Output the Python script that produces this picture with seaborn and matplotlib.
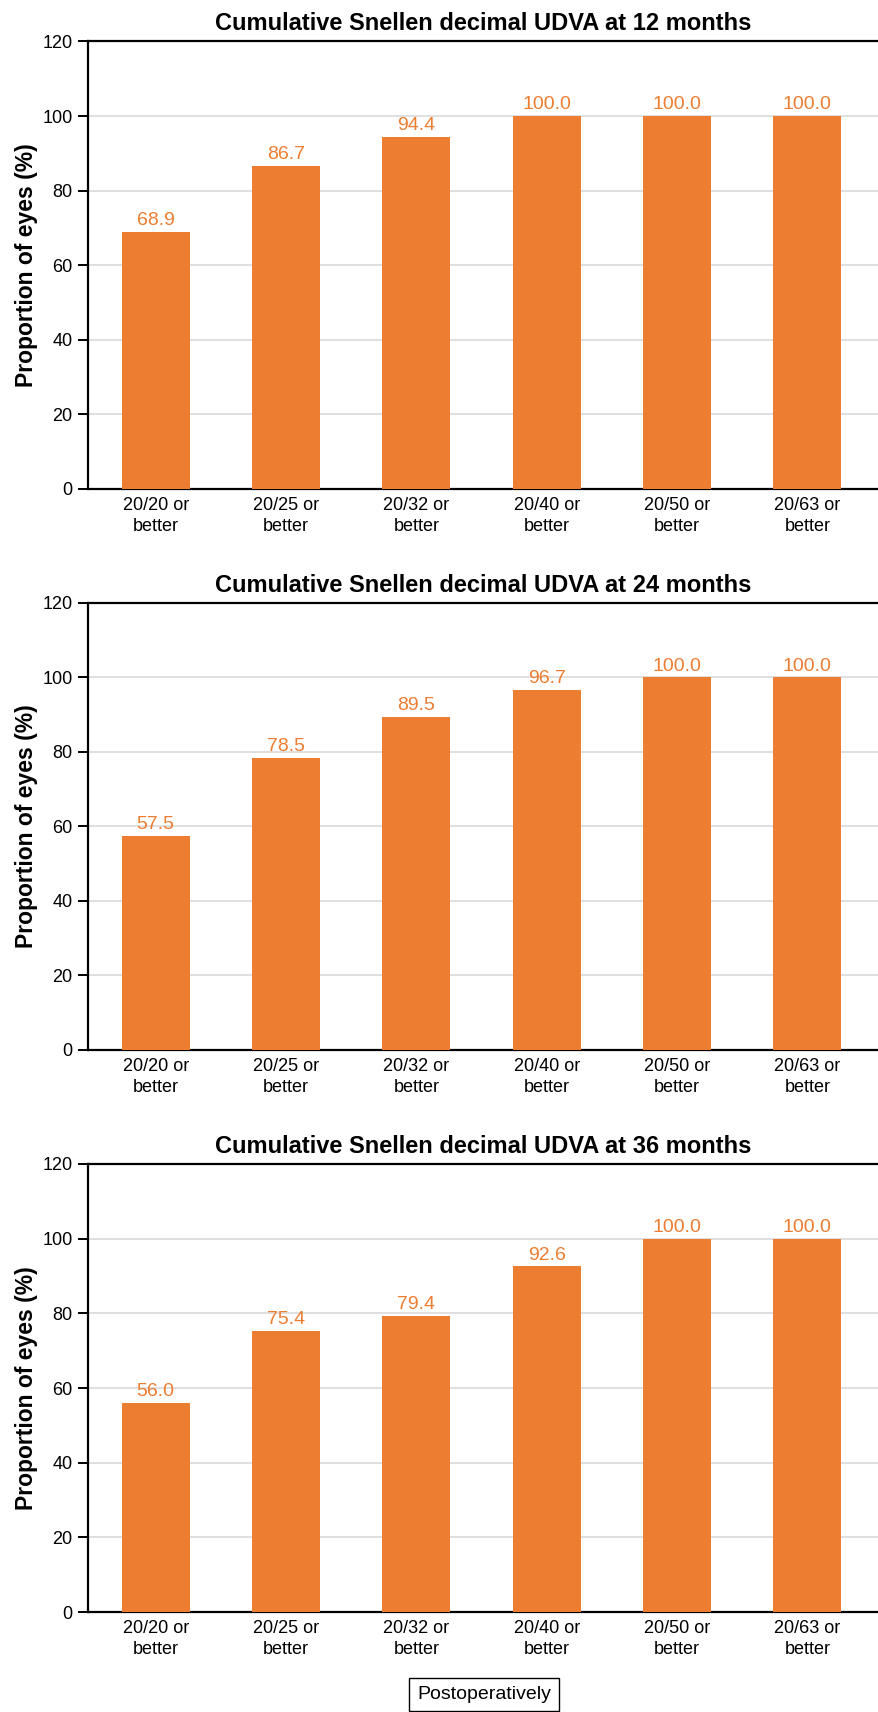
import numpy as np
import pandas as pd
import matplotlib
matplotlib.use('Agg')
import matplotlib.pyplot as plt
import seaborn as sns

# category labels (x axis)
categories = ['20/20 or\nbetter', '20/25 or\nbetter', '20/32 or\nbetter',
              '20/40 or\nbetter', '20/50 or\nbetter', '20/63 or\nbetter']

# cumulative proportions for each follow-up
udva_12m = [68.9, 86.7, 94.4, 100.0, 100.0, 100.0]
udva_24m = [57.5, 78.5, 89.5, 96.7, 100.0, 100.0]
udva_36m = [56.0, 75.4, 79.4, 92.6, 100.0, 100.0]

titles = ['Cumulative Snellen decimal UDVA at 12 months',
          'Cumulative Snellen decimal UDVA at 24 months',
          'Cumulative Snellen decimal UDVA at 36 months']
legend_label = 'Postoperatively'
y_ticks = [0, 20, 40, 60, 80, 100, 120]

orange = '#ED7D31'

sns.set_style('ticks')
plt.rcParams['font.family'] = ['Liberation Sans', 'DejaVu Sans']
plt.rcParams['text.color'] = 'black'
plt.rcParams['xtick.color'] = 'black'
plt.rcParams['ytick.color'] = 'black'
plt.rcParams['axes.labelcolor'] = 'black'

fig = plt.figure(figsize=(8.79, 17.12), dpi=100)

# axes rectangles in figure fractions [left, bottom, width, height]
rects = [[0.100, 0.7144, 0.900, 0.2614],
         [0.100, 0.3867, 0.900, 0.2611],
         [0.100, 0.0584, 0.900, 0.2617]]

for rect, title, vals in zip(rects, titles, [udva_12m, udva_24m, udva_36m]):
    ax = fig.add_axes(rect)
    df = pd.DataFrame({'cat': categories, 'val': vals})
    sns.barplot(data=df, x='cat', y='val', color=orange, width=0.52,
                saturation=1, linewidth=0, ax=ax, zorder=3)
    ax.set_xlim(-0.52, 5.55)
    ax.set_ylim(0, 120)
    ax.set_yticks(y_ticks)
    ax.yaxis.grid(True, color='#d9d9d9', linewidth=1.2, zorder=0)
    ax.set_axisbelow(True)
    ax.spines['right'].set_visible(False)
    for side in ['left', 'bottom', 'top']:
        ax.spines[side].set_color('black')
        ax.spines[side].set_linewidth(1.6)
    ax.tick_params(axis='y', length=7, width=1.4, labelsize=13, pad=4)
    ax.tick_params(axis='x', length=0, labelsize=13, pad=6)
    for lab in ax.get_xticklabels():
        lab.set_linespacing(1.25)
    ax.set_xlabel('')
    ax.set_ylabel('Proportion of eyes (%)', fontsize=16.5, fontweight='bold',
                  labelpad=3)
    ax.set_title(title, fontsize=17, fontweight='bold', pad=8)
    ax.bar_label(ax.containers[0], fmt='%.1f', color=orange, fontsize=14,
                 padding=2)

# legend box at the bottom of the figure
fig.text(0.551, 0.0102, legend_label, ha='center', va='center', fontsize=14,
         bbox=dict(boxstyle='square,pad=0.42', facecolor='white',
                   edgecolor='black', linewidth=1))

fig.savefig('out.png', dpi=100)
